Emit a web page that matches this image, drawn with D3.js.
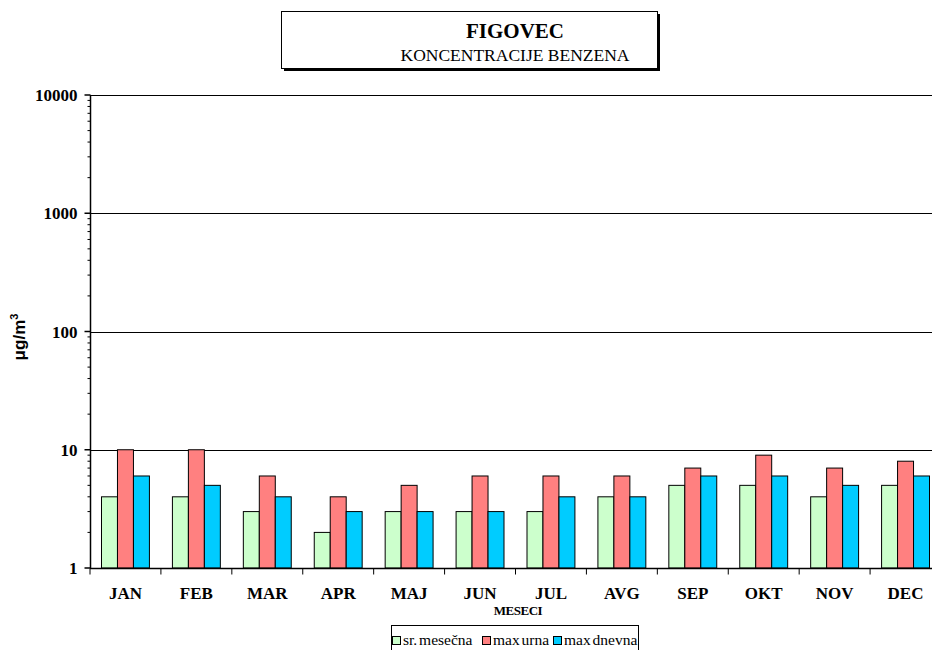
<!DOCTYPE html>
<html>
<head>
<meta charset="utf-8">
<script src="https://cdn.jsdelivr.net/npm/d3@7"></script>
<style>
  body { margin: 0; background: #fff; }
  svg { display: block; }
</style>
</head>
<body>
<svg id="chart" width="932" height="650"></svg>
<script>
var months = ["JAN","FEB","MAR","APR","MAJ","JUN","JUL","AVG","SEP","OKT","NOV","DEC"];
var seriesNames = ["sr. mesečna", "max urna", "max dnevna"];
var srMesecna = [4, 4, 3, 2, 3, 3, 3, 4, 5, 5, 4, 5];
var maxUrna   = [10, 10, 6, 4, 5, 6, 6, 6, 7, 9, 7, 8];
var maxDnevna = [6, 5, 4, 3, 3, 3, 4, 4, 6, 6, 5, 6];
var yTicks = [1, 10, 100, 1000, 10000];
var colors = ["#ccffcc", "#ff8080", "#00ccff"];

var svg = d3.select("#chart");
var plotLeft = 90, plotRight = 941, plotTop = 95, plotBottom = 568;

var x = d3.scaleBand().domain(months).range([plotLeft, plotRight]);
var xs = d3.scaleBand().domain(d3.range(3))
    .range([0, x.bandwidth()]).paddingOuter(0.72).paddingInner(0);
var y = d3.scaleLog().domain([1, 10000]).range([plotBottom, plotTop]);

var serif = "'Liberation Serif','Times New Roman',serif";

// title box
svg.append("rect").attr("x", 284).attr("y", 14).attr("width", 376).attr("height", 57).attr("fill", "#000");
svg.append("rect").attr("x", 281.5).attr("y", 11.5).attr("width", 376).attr("height", 57)
  .attr("fill", "#fff").attr("stroke", "#000").attr("stroke-width", 1);
svg.append("text").attr("x", 515).attr("y", 38).attr("text-anchor", "middle")
  .style("font-family", serif).style("font-weight", "bold").style("font-size", "21px")
  .text("FIGOVEC");
svg.append("text").attr("x", 515).attr("y", 61).attr("text-anchor", "middle")
  .style("font-family", serif).style("font-size", "17.5px")
  .text("KONCENTRACIJE BENZENA");

// gridlines
svg.append("g").selectAll("line").data(yTicks.slice(1)).enter().append("line")
  .attr("x1", plotLeft).attr("x2", 932)
  .attr("y1", function(d) { return Math.round(y(d)) + 0.5; })
  .attr("y2", function(d) { return Math.round(y(d)) + 0.5; })
  .attr("stroke", "#000").attr("stroke-width", 1);

// bars
var data = months.map(function(m, i) {
  return { month: m, values: [srMesecna[i], maxUrna[i], maxDnevna[i]] };
});
var groups = svg.append("g").selectAll("g").data(data).enter().append("g")
  .attr("transform", function(d) { return "translate(" + x(d.month) + ",0)"; });
groups.selectAll("rect").data(function(d) { return d.values; }).enter().append("rect")
  .attr("x", function(d, i) { return xs(i); })
  .attr("width", xs.bandwidth())
  .attr("y", function(d) { return y(d); })
  .attr("height", function(d) { return plotBottom - y(d); })
  .attr("fill", function(d, i) { return colors[i]; })
  .attr("stroke", "#000").attr("stroke-width", 1);

// y axis with minor ticks
var minor = [];
for (var dec = 1; dec < 10000; dec *= 10) {
  for (var k = 2; k <= 9; k++) minor.push(dec * k);
}
var yAxisG = svg.append("g").attr("transform", "translate(" + (plotLeft + 0.5) + ",0)");
yAxisG.append("line").attr("y1", plotTop).attr("y2", plotBottom).attr("stroke", "#000").attr("stroke-width", 1.5);
yAxisG.selectAll(".minor").data(minor).enter().append("line")
  .attr("x1", -3).attr("x2", 0)
  .attr("y1", function(d) { return y(d); }).attr("y2", function(d) { return y(d); })
  .attr("stroke", "#000");
yAxisG.selectAll(".major").data(yTicks).enter().append("line")
  .attr("x1", -6).attr("x2", 0)
  .attr("y1", function(d) { return y(d); }).attr("y2", function(d) { return y(d); })
  .attr("stroke", "#000").attr("stroke-width", 1.5);
yAxisG.selectAll("text").data(yTicks).enter().append("text")
  .attr("x", -13).attr("y", function(d) { return y(d) + 6; })
  .attr("text-anchor", "end")
  .style("font-family", serif).style("font-weight", "bold").style("font-size", "17px")
  .text(function(d) { return d; });

// x axis
var xAxisG = svg.append("g").attr("transform", "translate(0," + (plotBottom + 0.5) + ")");
xAxisG.append("line").attr("x1", plotLeft).attr("x2", 932).attr("stroke", "#000").attr("stroke-width", 1.5);
xAxisG.selectAll(".tk").data(months).enter().append("line")
  .attr("x1", function(d) { return x(d); }).attr("x2", function(d) { return x(d); })
  .attr("y1", 0).attr("y2", 6).attr("stroke", "#000");
xAxisG.selectAll("text").data(months).enter().append("text")
  .attr("x", function(d) { return x(d) + x.bandwidth() / 2; })
  .attr("y", 30).attr("text-anchor", "middle")
  .style("font-family", serif).style("font-weight", "bold").style("font-size", "17px")
  .text(function(d) { return d; });

svg.append("text").attr("x", 518).attr("y", 615).attr("text-anchor", "middle")
  .style("font-family", serif).style("font-weight", "bold").style("font-size", "13px")
  .style("letter-spacing", "-0.5px")
  .text("MESECI");

// y label
svg.append("text").attr("transform", "translate(25,337) rotate(-90)")
  .attr("text-anchor", "middle")
  .style("font-family", "'Liberation Sans',Arial,sans-serif").style("font-weight", "bold").style("font-size", "17px")
  .html("μg/m<tspan dy='-7' font-size='11px'>3</tspan>");

// legend
var lg = svg.append("g");
lg.append("rect").attr("x", 391.5).attr("y", 625.5).attr("width", 247).attr("height", 30)
  .attr("fill", "#fff").attr("stroke", "#000");
var legX = [392, 482, 553];
seriesNames.forEach(function(name, i) {
  lg.append("rect").attr("x", legX[i] + 0.5).attr("y", 636.5).attr("width", 8).attr("height", 8)
    .attr("fill", colors[i]).attr("stroke", "#000");
  lg.append("text").attr("x", legX[i] + 11).attr("y", 645)
    .style("font-family", serif).style("font-size", "15.5px")
    .style("word-spacing", "-2px")
    .text(name);
});
</script>
</body>
</html>
